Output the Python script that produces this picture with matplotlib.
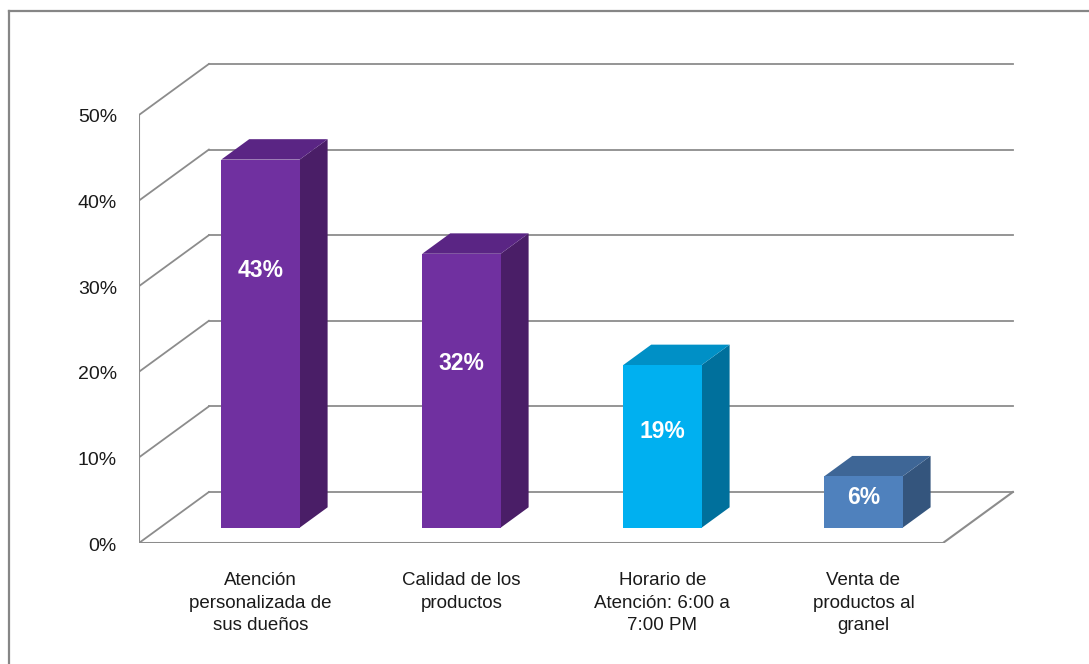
import matplotlib.pyplot as plt
from matplotlib.patches import Polygon
from matplotlib.lines import Line2D

plt.rcParams['font.family'] = ['Liberation Sans', 'DejaVu Sans']

# Survey results
categories = ['Atención\npersonalizada de\nsus dueños',
              'Calidad de los\nproductos',
              'Horario de\nAtención: 6:00 a\n7:00 PM',
              'Venta de\nproductos al\ngranel']
values = [43, 32, 19, 6]
value_labels = ['43%', '32%', '19%', '6%']
y_ticks = [0, 10, 20, 30, 40, 50]
y_tick_labels = ['0%', '10%', '20%', '30%', '40%', '50%']

# bar colours: front, side, top
front_colors = ['#7030A0', '#7030A0', '#00B0F0', '#4F81BD']
side_colors = ['#4A1E67', '#4A1E67', '#00709C', '#34557D']
top_colors = ['#5A2584', '#5A2584', '#0090C6', '#3E6696']
# where the value label sits, as a fraction of bar height
label_frac = [0.70, 0.60, 0.59, 0.58]

# oblique projection of the depth axis
DX, DY = 0.348, 5.96
bar_w = 0.39
d0, d1 = 0.30, 0.70   # bar front/back depth
grid_c = '#8C8C8C'


def proj(x, v, d):
    return x + d * DX, v + d * DY


fig = plt.figure(figsize=(10.89, 6.64), dpi=100)
ax = fig.add_axes([0.1276, 0.1822, 0.8121, 0.7349])
ax.set_xlim(-0.5, 3.9)
ax.set_ylim(0, 57)
ax.axis('off')

x0, x1 = -0.5, len(values) - 0.5
top = max(y_ticks)

# back wall gridlines and left wall diagonals
for v in y_ticks:
    bx0, by = proj(x0, v, 1)
    bx1, _ = proj(x1, v, 1)
    ax.add_line(Line2D([bx0, bx1], [by, by], color=grid_c, lw=1.3, zorder=1))
    ax.add_line(Line2D([x0, bx0], [v, by], color=grid_c, lw=1.3, zorder=1))
ax.add_line(Line2D([x0, x0], [0, top], color=grid_c, lw=1.5, zorder=1))
# floor front and right edges
rx, ry = proj(x1, 0, 1)
ax.add_line(Line2D([x0, x1, rx], [0, 0, ry], color=grid_c, lw=1.5, zorder=1))

for i, v in enumerate(values):
    xl, xr = i - bar_w / 2, i + bar_w / 2
    front = [proj(xl, 0, d0), proj(xr, 0, d0), proj(xr, v, d0), proj(xl, v, d0)]
    side = [proj(xr, 0, d0), proj(xr, 0, d1), proj(xr, v, d1), proj(xr, v, d0)]
    topf = [proj(xl, v, d0), proj(xr, v, d0), proj(xr, v, d1), proj(xl, v, d1)]
    ax.add_patch(Polygon(side, closed=True, fc=side_colors[i], ec='none', zorder=3))
    ax.add_patch(Polygon(topf, closed=True, fc=top_colors[i], ec='none', zorder=3))
    ax.add_patch(Polygon(front, closed=True, fc=front_colors[i], ec='none', zorder=4))
    lx, ly = proj(i, v * label_frac[i], d0)
    ax.text(lx, ly, value_labels[i], color='white', fontsize=16.5, fontweight='bold',
            ha='center', va='center', zorder=5)
    cx, _ = proj(i, 0, d0)
    ax.annotate(categories[i], (cx, 0), xytext=(0, -29), textcoords='offset pixels',
                ha='center', va='top', fontsize=13.5, color='#1A1A1A',
                linespacing=1.43, annotation_clip=False)

for v, lab in zip(y_ticks, y_tick_labels):
    ax.annotate(lab, (x0, v), xytext=(-22, -3), textcoords='offset pixels',
                ha='right', va='center', fontsize=14, color='#1A1A1A',
                annotation_clip=False)

# outer chart border
fig.add_artist(Line2D([9 / 1089, 9 / 1089], [0, 1 - 11 / 664], transform=fig.transFigure,
                      color='#868686', lw=1.6))
fig.add_artist(Line2D([9 / 1089, 1], [1 - 11 / 664, 1 - 11 / 664], transform=fig.transFigure,
                      color='#868686', lw=1.6))

fig.savefig('out.png', dpi=100)
